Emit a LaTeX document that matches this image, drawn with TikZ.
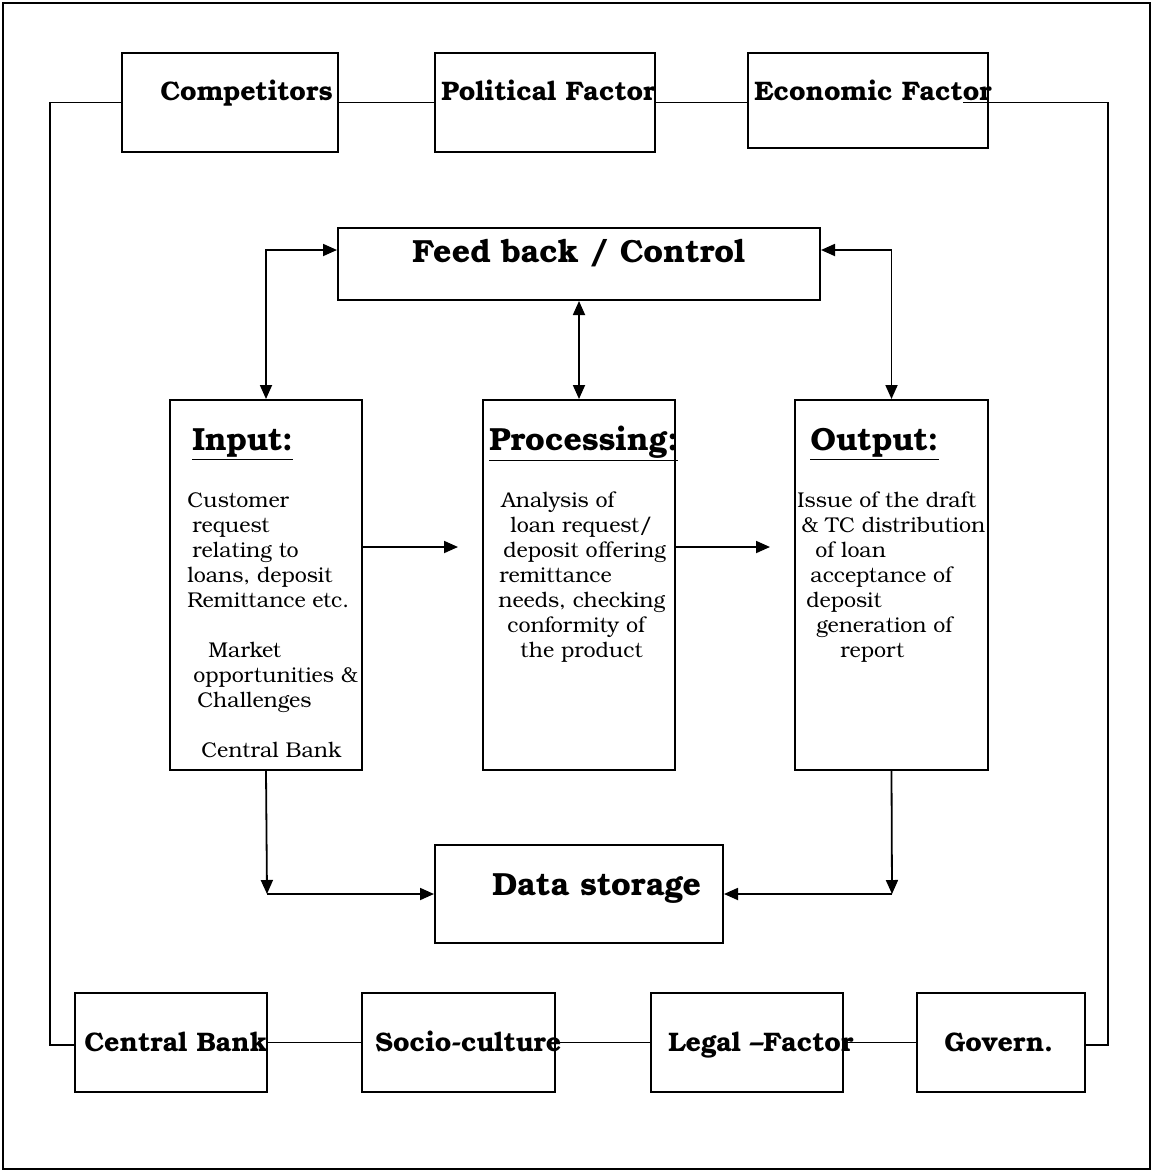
\documentclass[tikz,border=0pt]{standalone}
\usepackage{fontspec}
\setmainfont{TeX Gyre Bonum}
\usetikzlibrary{arrows.meta}
% one line of body text, placed by its left baseline point
\newcommand\bodyline[4]{\node[body] (#1) at (#2,#3) {#4};}

\begin{document}
\begin{tikzpicture}[x=0.5pt,y=-0.5pt,
  box/.style={draw,line width=1pt,inner sep=0pt},
  lbl/.style={anchor=base west,inner sep=0pt,font=\fontsize{13.4}{16}\selectfont\bfseries},
  head/.style={anchor=base west,inner sep=0pt,font=\fontsize{16}{19}\selectfont\bfseries},
  big/.style={anchor=base west,inner sep=0pt,font=\fontsize{16}{19}\selectfont\bfseries},
  body/.style={anchor=base west,inner sep=0pt,font=\fontsize{10.7}{12.5}\selectfont},
  link/.style={line width=0.9pt},
  tip/.style={link,-{Triangle[length=7pt,width=6pt]}},
  both/.style={link,{Triangle[length=7pt,width=6pt]}-{Triangle[length=7pt,width=6pt]}}]

\useasboundingbox (0,0) rectangle (1152,1173);
\draw[line width=1pt] (3,3) rectangle (1150,1169);

% ---- environment factors, top row
\node[box,minimum width=108pt,minimum height=49.5pt] (comp) at (230,102.5) {};
\node[box,minimum width=110pt,minimum height=49.5pt] (pol)  at (545,102.5) {};
\node[box,minimum width=120pt,minimum height=47.5pt] (eco)  at (868,100.5) {};
\node[lbl] (compT) at (160,100) {Competitors};
\node[lbl] (polT)  at (441,100) {Political Factor};
\node[lbl] (ecoT)  at (754,100) {Economic Factor};

% ---- environment factors, bottom row
\node[box,minimum width=96pt,minimum height=49.5pt]   (cb)  at (171,1042.5) {};
\node[box,minimum width=96.5pt,minimum height=49.5pt] (soc) at (458.5,1042.5) {};
\node[box,minimum width=96pt,minimum height=49.5pt]   (leg) at (747,1042.5) {};
\node[box,minimum width=84pt,minimum height=49.5pt]   (gov) at (1001,1042.5) {};
\node[lbl] (cbT)  at (84,1051)  {Central Bank};
\node[lbl] (socT) at (375,1051) {Socio-culture};
\node[lbl] (legT) at (668,1051) {Legal –Factor};
\node[lbl] (govT) at (944,1051) {Govern.};

% ---- loop joining the factors
\coordinate (tl) at (50,102.5);
\coordinate (bl) at (50,1045);
\coordinate (tr) at (1108,102.5);
\coordinate (br) at (1108,1045);
\coordinate (ecoIn) at (963,102.5);
\draw[link] (comp.west) -- (tl) -- (bl) -- (cb.west |- bl);
\draw[link] (comp.east) -- (pol.west);
\draw[link] (pol.east) -- (eco.west |- pol.east);
\draw[link] (ecoIn) -- (tr) -- (br) -- (gov.east |- br);
\draw[link] (cb.east) -- (soc.west);
\draw[link] (soc.east) -- (leg.west);
\draw[link] (leg.east) -- (gov.west);

% ---- control box
\node[box,minimum width=241pt,minimum height=36pt] (fb) at (579,264) {};
\node[big] (fbT) at (412,262) {Feed back / Control};

% ---- system blocks
\node[box,minimum width=96pt,minimum height=185pt]   (inp)  at (266,585) {};
\node[box,minimum width=96pt,minimum height=185pt]   (proc) at (579,585) {};
\node[box,minimum width=96.5pt,minimum height=185pt] (outp) at (891.5,585) {};

\node[head] (inpT)  at (192,450) {\underline{Input:}};
\node[head] (procT) at (489,450) {\underline{Processing:}};
\node[head] (outpT) at (810,450) {\underline{Output:}};

\bodyline{i1}{187}{507}{Customer}
\bodyline{i2}{192}{532}{request}
\bodyline{i3}{192}{557}{relating to}
\bodyline{i4}{187}{582}{loans, deposit}
\bodyline{i5}{187}{607}{Remittance etc.}
\bodyline{i6}{208}{657}{Market}
\bodyline{i7}{193}{682}{opportunities \&}
\bodyline{i8}{197}{707}{Challenges}
\bodyline{i9}{201}{757}{Central Bank}

\bodyline{p1}{501}{507}{Analysis of}
\bodyline{p2}{510}{532}{loan request/}
\bodyline{p3}{503}{557}{deposit offering}
\bodyline{p4}{499}{582}{remittance}
\bodyline{p5}{498}{607}{needs, checking}
\bodyline{p6}{507}{632}{conformity of}
\bodyline{p7}{520}{657}{the product}

\bodyline{o1}{797}{507}{Issue of the draft}
\bodyline{o2}{801}{532}{\& TC distribution}
\bodyline{o3}{815}{557}{of loan}
\bodyline{o4}{810}{582}{acceptance of}
\bodyline{o5}{806}{607}{deposit}
\bodyline{o6}{816}{632}{generation of}
\bodyline{o7}{840}{657}{report}

% ---- storage
\node[box,minimum width=144pt,minimum height=49pt] (ds) at (579,894) {};
\node[big] (dsT) at (492,895) {Data storage};

% ---- flows
\coordinate (toProc) at (458,547);
\coordinate (toOut)  at (770,547);
\coordinate (dl) at (267,894);
\coordinate (dr) at (892,894);

\draw[both] (inp.north) |- ([yshift=7pt]fb.west);
\draw[both] (fb.south) -- (proc.north);
\draw[both] (outp.north) |- ([yshift=7pt]fb.east);

\draw[tip] (inp.east |- toProc) -- (toProc);
\draw[tip] (proc.east |- toOut) -- (toOut);

\draw[tip] (inp.south) -- (dl);
\draw[tip] (dl) -- (ds.west);
\draw[tip] (outp.south) -- (dr);
\draw[tip] (dr) -- (ds.east);
\end{tikzpicture}
\end{document}
